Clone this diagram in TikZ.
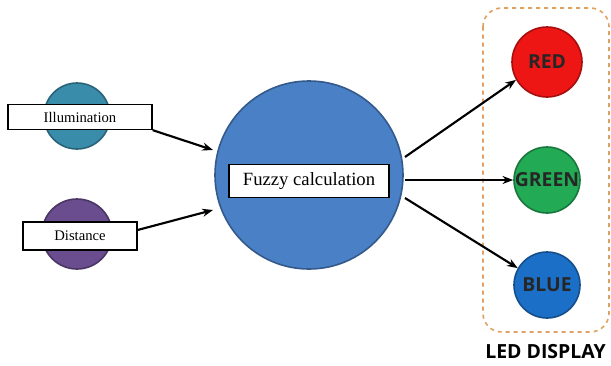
\documentclass[tikz,border=0pt]{standalone}
\usepackage{fontspec}
\setmainfont{Liberation Serif}
\newfontfamily\ledfont{Open Sans}
\usetikzlibrary{arrows.meta}
\definecolor{tealc}{HTML}{3A8DAA}
\definecolor{purplec}{HTML}{6A4D8E}
\definecolor{bigblue}{HTML}{4A80C6}
\definecolor{redc}{HTML}{EE1515}
\definecolor{greenc}{HTML}{22AA55}
\definecolor{bluec}{HTML}{1C6FC6}
\definecolor{dashor}{HTML}{E0A060}
\tikzset{
  ball/.style={circle, inner sep=0pt, line width=1.2pt},
  lbl/.style={draw=black, fill=white, line width=1pt, inner sep=0pt, font=\fontsize{11}{12}\selectfont},
  arr/.style={-{Stealth[length=8pt,width=6pt]}, line width=1.6pt, black},
  ledtxt/.style={font=\ledfont\bfseries\fontsize{14.5}{16}\selectfont, text=black!85}
}
\begin{document}
\begin{tikzpicture}[x=0.75pt,y=-0.75pt]
\useasboundingbox (0,0) rectangle (611,365);
% input balls
\node[ball, fill=tealc, draw=tealc!70!black, minimum size=66*0.75pt] (illb) at (77,116) {};
\node[ball, fill=purplec, draw=purplec!70!black, minimum size=70*0.75pt] (disb) at (77,234) {};
% labels
\node[lbl, minimum width=144*0.75pt, minimum height=25*0.75pt] (ill) at (80,117) {Illumination};
\node[lbl, minimum width=114*0.75pt, minimum height=28*0.75pt] (dis) at (80,236) {Distance};
% big circle
\node[ball, fill=bigblue, draw=bigblue!70!black, minimum size=188*0.75pt] (fz) at (309,175) {};
\node[lbl, minimum width=160*0.75pt, minimum height=33*0.75pt, font=\fontsize{14}{16}\selectfont] (fzl) at (309,181) {Fuzzy calculation};
% LED box
\draw[dashor, dashed, line width=1.2pt, rounded corners=14pt] (483,8) rectangle (609,332);
\node[ball, fill=redc, draw=redc!70!black, minimum size=70*0.75pt] (red) at (547,62) {};
\node[ledtxt] at (red) {RED};
\node[ball, fill=greenc, draw=greenc!70!black, minimum size=66*0.75pt] (green) at (547,180) {};
\node[ledtxt] at (green) {GREEN};
\node[ball, fill=bluec, draw=bluec!70!black, minimum size=66*0.75pt] (blue) at (547,285) {};
\node[ledtxt] at (blue) {BLUE};
\node[font=\ledfont\bfseries\fontsize{14.6}{17}\selectfont, anchor=west, inner sep=0pt] (leddisp) at (485,352) {LED DISPLAY};
% arrows
\coordinate (a1) at (213,150);
\coordinate (a2) at (213,210);
\draw[arr] (ill.south east) -- (a1);
\draw[arr] (dis.east) ++(0,-6) -- (a2);
\coordinate (s1) at (405,157);
\coordinate (s2) at (405,180);
\coordinate (s3) at (405,198);
\draw[arr] (s1) -- (red.210);
\draw[arr] (s2) -- (green.west);
\draw[arr] (s3) -- (blue.150);
\end{tikzpicture}
\end{document}
